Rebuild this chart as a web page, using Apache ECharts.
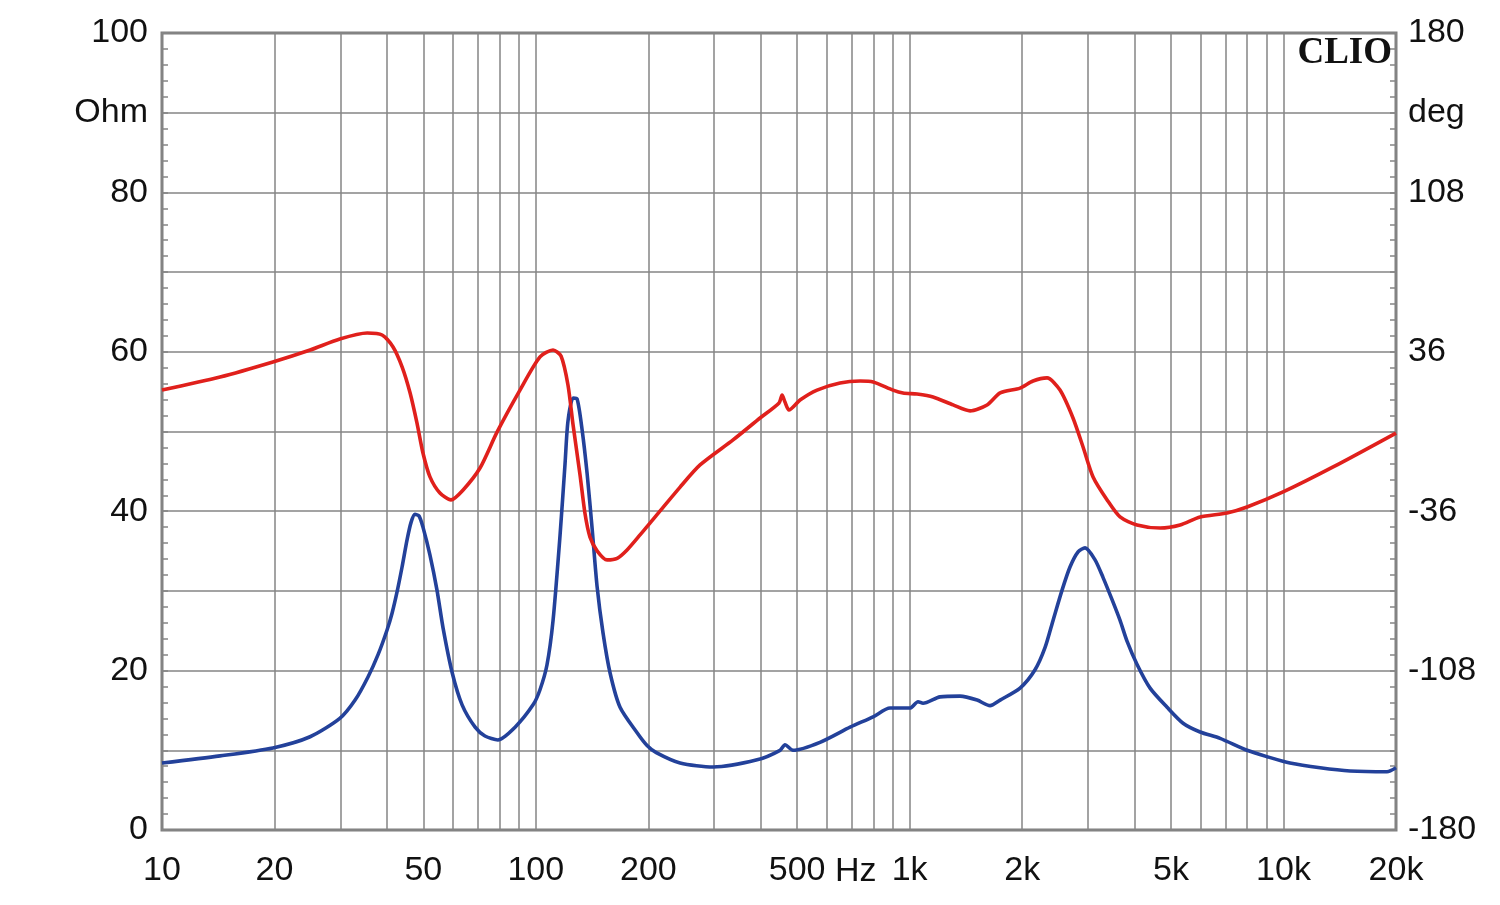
<!DOCTYPE html>
<html>
<head>
<meta charset="utf-8">
<script src="https://cdn.jsdelivr.net/npm/echarts@6/dist/echarts.min.js"></script>
<style>
  html, body { margin: 0; padding: 0; background: #fff; }
  #chart { width: 1500px; height: 905px; }
</style>
</head>
<body>
<div id="chart"></div>
<script>
// impedance (blue, left axis, Ohm)
const impFreq = [10, 14.3, 19.8, 24.9, 29.9, 32.85, 35.57, 37.84, 40.0, 41.25, 42.55, 43.87, 45.24, 46.37, 47.5, 48.71, 49.9, 52.1, 54.4, 56.5, 59.7, 63.5, 68.8, 73.1, 79.2, 88.0, 98.3, 102.6, 107.1, 111.2, 116.1, 119.7, 121.9, 125.8, 128.9, 133.0, 137.1, 141.4, 145.8, 151.3, 158.0, 168.0, 186.6, 198.4, 210, 243.2, 297.9, 390.8, 450, 464, 487.5, 575.6, 692.9, 798.5, 886.2, 1002, 1053, 1086, 1206, 1364, 1515, 1641, 1746, 1974, 2165, 2303, 2419, 2557, 2685, 2822, 2946, 3133, 3290, 3479, 3655, 3815, 4056, 4397, 4883, 5388, 5983, 6767, 7991, 9036, 10410, 12530, 15070, 18920, 20000]
const impOhm = [8.4, 9.3, 10.3, 11.7, 14.0, 16.3, 19.2, 22.0, 25.1, 27.2, 29.9, 33.0, 36.4, 38.6, 39.6, 39.4, 38.0, 34.5, 30.1, 25.3, 19.8, 15.7, 12.9, 11.8, 11.3, 12.9, 15.7, 17.6, 20.7, 26.3, 37.0, 45.9, 51.3, 54.2, 54.1, 50.2, 44.8, 37.9, 30.6, 24.7, 19.7, 15.4, 12.2, 10.6, 9.7, 8.4, 7.9, 8.8, 10.0, 10.7, 10.0, 11.0, 12.9, 14.2, 15.3, 15.3, 16.1, 15.9, 16.7, 16.8, 16.3, 15.6, 16.3, 17.8, 20.1, 22.9, 26.3, 30.1, 33.0, 34.9, 35.4, 33.9, 31.7, 28.9, 26.3, 23.7, 20.8, 17.8, 15.4, 13.4, 12.3, 11.5, 10.0, 9.2, 8.4, 7.8, 7.4, 7.3, 7.8]

// phase (red, right axis, deg)
const phaseFreq = [10, 14.3, 19.8, 24.9, 29.9, 35.4, 38.8, 41.5, 43.9, 46.1, 48.1, 49.9, 52.1, 55.4, 59.3, 63.9, 70.9, 78.8, 90.7, 102.6, 111.2, 116.8, 121.9, 125.8, 131.3, 135.3, 139.6, 146, 155.1, 165, 175.4, 190.0, 243.2, 275.0, 337.0, 398, 447.4, 455.8, 464, 475.6, 509.1, 565.3, 651.2, 736.9, 798.5, 902.7, 960.0, 1047, 1155, 1307, 1451, 1611, 1746, 1974, 2138, 2331, 2525, 2735, 2910, 3095, 3375, 3655, 4056, 4677, 5290, 5983, 7065, 7991, 9977, 13580, 20000]
const phaseDeg = [18.7, 24.6, 31.4, 36.8, 41.8, 44.5, 43.6, 38.2, 29.1, 17.4, 3.8, -9.7, -20.5, -27.8, -30.9, -26.4, -16.5, -0.2, 18.7, 33.7, 36.8, 34.1, 21.0, 2.9, -19.6, -36.8, -47.7, -54.0, -58.0, -57.3, -53.5, -46.7, -25.1, -15.1, -3.8, 6.1, 12.9, 16.5, 13.3, 9.7, 14.2, 18.7, 21.9, 22.8, 22.4, 18.7, 17.4, 16.9, 15.6, 12.0, 9.3, 12.0, 17.4, 19.6, 22.8, 24.2, 18.7, 6.1, -7.0, -20.5, -30.9, -38.6, -42.2, -43.6, -42.2, -38.6, -36.8, -34.1, -27.3, -16.0, -0.7]

const xLabelFreqs = [10, 20, 50, 100, 200, 500, 1000, 2000, 5000, 10000, 20000]
const xGridFreqs = [10, 20, 30, 40, 50, 60, 70, 80, 90,
  100, 200, 300, 400, 500, 600, 700, 800, 900,
  1000, 2000, 3000, 4000, 5000, 6000, 7000, 8000, 9000,
  10000, 20000]
const ohmLabels = { 0: '0', 20: '20', 40: '40', 60: '60', 80: '80', 90: 'Ohm', 100: '100' }
const degLabels = { '-180': '-180', '-108': '-108', '-36': '-36', '36': '36', '108': '108', '144': 'deg', '180': '180' }

const GRID = '#858585'
const FONT = 'Liberation Sans'
const lg = Math.log10

const chart = echarts.init(document.getElementById('chart'))

chart.setOption({
  backgroundColor: '#fff',
  animation: false,
  grid: {
    left: 162, right: 104, top: 33, bottom: 75,
    show: true, borderColor: '#7f7f7f', borderWidth: 3
  },
  xAxis: {
    type: 'value',
    min: 1,
    max: lg(20000),
    axisLine: { show: false },
    axisTick: { show: false, customValues: xGridFreqs.map(lg) },
    splitLine: { show: true, lineStyle: { color: GRID, width: 1.5 } },
    axisLabel: {
      customValues: xLabelFreqs.map(lg),
      margin: 24,
      fontFamily: FONT, fontSize: 34, color: '#111',
      formatter: v => {
        const f = Math.round(Math.pow(10, v))
        return f >= 1000 ? (f / 1000) + 'k' : String(f)
      }
    }
  },
  yAxis: [{
    type: 'value',
    min: 0, max: 100, interval: 10,
    axisLine: { show: false },
    axisTick: { show: true, inside: true, length: 6, lineStyle: { color: GRID, width: 1.5 } },
    minorTick: { show: true, splitNumber: 5, length: 6, lineStyle: { color: GRID, width: 1.5 } },
    splitLine: { show: true, lineStyle: { color: GRID, width: 1.5 } },
    axisLabel: {
      margin: 14, fontFamily: FONT, fontSize: 34, color: '#111',
      formatter: v => ohmLabels[Math.round(v)] || ''
    }
  }, {
    type: 'value',
    position: 'right',
    min: -180, max: 180, interval: 36,
    axisLine: { show: false },
    axisTick: { show: true, inside: true, length: 6, lineStyle: { color: GRID, width: 1.5 } },
    minorTick: { show: true, splitNumber: 5, length: 6, lineStyle: { color: GRID, width: 1.5 } },
    splitLine: { show: false },
    axisLabel: {
      margin: 12, fontFamily: FONT, fontSize: 34, color: '#111',
      formatter: v => degLabels[String(Math.round(v))] || ''
    }
  }],
  graphic: [{
    type: 'text', right: 108, top: 35, z: 10,
    style: { text: 'CLIO', font: 'bold 37px "Liberation Serif"', fill: '#111' }
  }, {
    type: 'text', left: 835, top: 855,
    style: { text: 'Hz', font: '34px "Liberation Sans"', fill: '#111' }
  }],
  series: [{
    name: 'Impedance',
    type: 'line',
    yAxisIndex: 0,
    data: impFreq.map((f, i) => [lg(f), impOhm[i]]),
    showSymbol: false,
    smooth: 0.25,
    lineStyle: { color: '#23419a', width: 3.6 }
  }, {
    name: 'Phase',
    type: 'line',
    yAxisIndex: 1,
    data: phaseFreq.map((f, i) => [lg(f), phaseDeg[i]]),
    showSymbol: false,
    smooth: 0.25,
    lineStyle: { color: '#e0201c', width: 3.6 }
  }]
})
</script>
</body>
</html>
